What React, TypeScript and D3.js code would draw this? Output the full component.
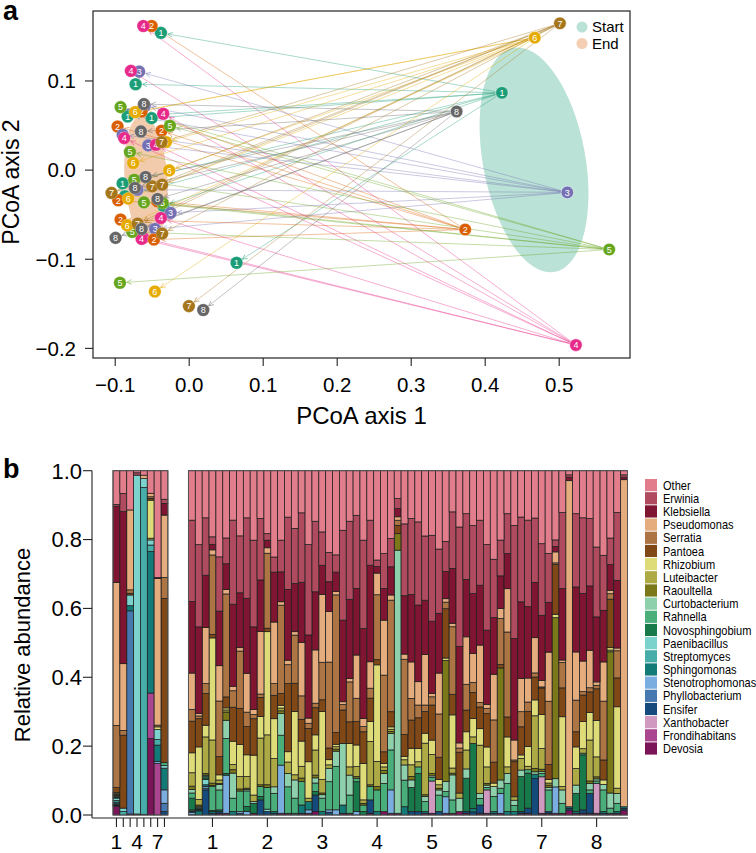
import React from "react";
import * as d3 from "d3";

// ---------- Panel a data ----------
const strainColors = ["#1B9E77", "#D95F02", "#7570B3", "#E7298A", "#66A61E", "#E6AB02", "#A6761D", "#666666"];
const strainLabels = ["1", "2", "3", "4", "5", "6", "7", "8"];
const startX = [0.4226, 0.373, 0.511, 0.5226, 0.5676, 0.467, 0.501, 0.3614];
const startY = [0.0867, -0.0667, -0.025, -0.1963, -0.0891, 0.1486, 0.1647, 0.0657];

const endStrain = [1, 2, 3, 3, 3, 3, 4, 6, 7,
  1, 1, 1, 1, 1, 1, 1,
  2, 2, 2, 2, 2, 2, 2,
  3, 3, 3, 3,
  4, 4, 4, 4, 4, 4, 4,
  5, 5, 5, 5, 5, 5, 5, 5,
  6, 6, 6, 6, 6, 6, 6,
  7, 7, 7, 7, 7, 7, 7,
  8, 8, 8, 8, 8, 8, 8, 8];
const endX = [-0.035, -0.043, -0.06, -0.07, -0.046, -0.082, -0.062, -0.067, -0.068,
  -0.0382, -0.0724, -0.0832, -0.0508, -0.09, -0.0869, 0.064,
  -0.0508, -0.0968, -0.0373, -0.0959, -0.0927, -0.0477, -0.0643,
  -0.0676, -0.09, -0.0554, -0.0251,
  -0.062, -0.0788, -0.0351, -0.0878, -0.045, -0.0382, -0.0643,
  -0.0927, -0.026, -0.0801, -0.0743, -0.0612, -0.036, -0.077, -0.0936,
  -0.073, -0.0315, -0.0757, -0.027, -0.0824, -0.0838, -0.0464,
  -0.0373, -0.05, -0.0365, -0.1049, -0.0697, -0.0365, -0.0004,
  -0.0612, -0.0653, -0.0734, -0.0589, -0.0427, -0.0643, -0.0995, 0.019];
const endY = [-0.04, -0.035, 0.072, -0.022, -0.066, 0.062, -0.076, 0.066, -0.062,
  0.154, 0.0964, 0.0601, 0.0583, -0.0149, -0.0294, -0.104,
  0.1617, 0.049, 0.0441, -0.0339, -0.0555, -0.0779, 0.0657,
  0.1105, 0.0396, 0.0277, -0.048,
  0.1617, 0.1113, 0.0632, 0.0359, 0.0284, -0.0537, -0.0772,
  0.0707, 0.0497, 0.0203, -0.0108, -0.0362, -0.0369, -0.0693, -0.1264,
  0.065, 0.0315, 0.008, -0.0003, -0.032, -0.0619, -0.1362,
  0.0315, -0.0182, -0.0163, -0.0256, -0.06, -0.0712, -0.1526,
  0.074, 0.0434, -0.02, -0.0077, -0.0324, -0.066, -0.076, -0.157];

// fitted ellipses (centre, semi-axes in data units, tilt in degrees)
const ellipseStart = { cx: 0.466, cy: 0.0115, rx: 0.0692, ry: 0.1278, angle: -10.5 };
const ellipseEnd = { cx: -0.0584, cy: -0.0095, rx: 0.029, ry: 0.071, angle: -4 };

const xTicksA = [-0.1, 0, 0.1, 0.2, 0.3, 0.4, 0.5];
const yTicksA = [0.1, 0, -0.1, -0.2];
const legendA = ["Start", "End"];

// ---------- Panel b data ----------
const genera = ["Other", "Erwinia", "Klebsiella", "Pseudomonas", "Serratia", "Pantoea", "Rhizobium", "Luteibacter",
  "Raoultella", "Curtobacterium", "Rahnella", "Novosphingobium", "Paenibacillus", "Streptomyces", "Sphingomonas",
  "Stenotrophomonas", "Phyllobacterium", "Ensifer", "Xanthobacter", "Frondihabitans", "Devosia"];
const generaColors = ["#E27D8C", "#B04A5E", "#7F1530", "#E5AC7E", "#AD7444", "#7F4816", "#DEDC78", "#ADAA45",
  "#7A7818", "#8ED0AC", "#49AE7A", "#187A4A", "#7CD2CC", "#46ADA9", "#127A77", "#7BAEE0", "#4579AF", "#144A7C",
  "#D099BF", "#AA4690", "#7B1458"];

// start communities (one per strain), values in % in legend order
const abundanceStart = [
  [10.0, 0.5, 22.5, 42.3, 18.4, 1.5, 0.3, 0.2, 0.3, 0.3, 0.3, 0.2, 0.7, 0.5, 0.5, 0.2, 0, 0.2, 0.2, 0.2, 2.5],
  [6.6, 5.3, 44.2, 19.4, 1.4, 21.2, 0, 0, 0, 0, 0, 0, 1.0, 1.0, 0, 0, 0, 0, 0, 0, 0],
  [11.4, 0, 0, 23.2, 1.0, 0.5, 0, 0, 0, 0, 0, 0, 3.1, 0, 1.5, 0, 59.0, 0, 0, 0, 0.3],
  [0.6, 0.7, 0, 0, 0, 0, 0, 0, 0, 0, 0, 0, 98.4, 0, 0, 0, 0, 0, 0, 0, 0.3],
  [1.3, 0, 0, 1.0, 0, 0, 0, 0, 0, 0, 0, 0, 2.6, 94.9, 0, 0, 0, 0, 0, 0, 0.2],
  [6.6, 0, 0, 1.0, 0.5, 0.5, 11.1, 0.5, 0, 0, 0, 0, 1.5, 1.9, 41.3, 0, 0, 0, 0, 13.3, 22.3],
  [31.0, 0, 0.3, 42.6, 0.5, 0, 0.8, 0, 0, 0, 0, 0, 2.9, 1.6, 4.8, 0.5, 0, 0, 0, 15.0, 0],
  [8.3, 1.2, 3.4, 18.1, 6.1, 47.7, 0, 0, 0, 0, 0.8, 0, 0.8, 0, 6.3, 3.9, 2.4, 1.0, 0, 0, 0],
];

// end communities (8 replicates per strain)
const abundanceEnd = [
  [14.4, 23.7, 20.8, 10.6, 3.4, 9.2, 5.8, 3.9, 1.0, 1.0, 1.5, 3.4, 0.3, 0.2, 0.2, 0.7, 0, 0, 0, 0, 0.1],
  [21.5, 23.9, 25.2, 0.7, 0.8, 8.2, 15.3, 1.6, 0.5, 0.3, 0.3, 0.2, 0.2, 0.2, 1.2, 0, 0, 0, 0, 0, 0],
  [13.7, 16.7, 15.2, 16.3, 2.9, 9.2, 3.4, 10.6, 0.5, 0.3, 0.5, 0.5, 1.5, 0, 0.5, 0.5, 0.5, 7.3, 0, 0, 0],
  [19.3, 2.2, 1.6, 1.5, 23.2, 1.0, 29.8, 12.6, 0.7, 0.3, 7.0, 0.3, 0, 0, 0.5, 0, 0, 0.5, 0, 0, 0],
  [25.1, 15.8, 15.9, 10.3, 16.2, 5.3, 1.5, 1.0, 0.3, 1.6, 5.8, 0.5, 0, 0, 0, 0, 0, 0.5, 0, 0, 0.5],
  [19.6, 7.5, 7.5, 1.3, 30.0, 3.2, 0.6, 0.6, 2.4, 5.3, 10.2, 0.5, 0, 0, 0, 11.1, 0, 0, 0, 0, 0.5],
  [14.4, 24.5, 23.9, 1.3, 4.8, 9.9, 6.8, 1.5, 1.0, 7.3, 3.9, 0, 0, 0, 1.0, 0, 0, 0, 0, 0, 0],
  [19.0, 16.6, 16.0, 1.0, 16.7, 10.5, 9.4, 3.6, 0.6, 0, 6.0, 0, 0, 0, 0, 0.5, 0, 0.5, 0, 0, 0],
  [13.7, 23.4, 21.8, 11.3, 4.2, 8.2, 6.3, 3.4, 0.4, 0.4, 4.5, 1.5, 0, 0, 0, 1.0, 0, 0, 0, 0, 0],
  [20.2, 25.2, 24.0, 1.5, 1.2, 10.6, 11.6, 1.9, 0, 0.5, 0, 2.9, 0, 0, 0, 0, 0, 0, 0, 0, 0.5],
  [13.9, 17.9, 15.0, 18.2, 1.0, 5.5, 6.3, 13.6, 0.5, 0, 2.9, 1.0, 0, 0, 0, 0, 0, 4.4, 0, 0, 0],
  [18.3, 1.9, 2.2, 1.6, 21.8, 1.0, 30.0, 14.5, 0.8, 0, 6.3, 0, 0.7, 0, 0, 0, 0, 1.0, 0, 0, 0],
  [25.1, 4.4, 14.5, 17.9, 3.4, 6.8, 11.6, 8.2, 0, 1.9, 5.3, 0, 0, 0, 0.5, 0, 0, 0.5, 0, 0, 0],
  [20.2, 9.2, 8.7, 1.0, 25.7, 3.4, 0.8, 0.8, 0.8, 6.3, 8.7, 0, 0, 0, 0, 14.0, 0, 0, 0, 0, 0.5],
  [13.5, 21.0, 20.6, 1.3, 5.5, 19.8, 3.0, 3.3, 0, 3.9, 7.7, 0, 0, 0, 0, 0, 0, 0, 0, 0, 0.5],
  [16.8, 16.0, 14.0, 1.0, 14.0, 8.2, 18.4, 1.5, 0, 5.3, 4.4, 0, 0, 0, 0.5, 0, 0, 0, 0, 0, 0],
  [12.2, 20.1, 17.4, 15.5, 6.8, 6.3, 7.3, 3.4, 1.0, 0, 6.8, 0, 0, 0, 2.4, 0, 0, 0, 0, 0, 0.5],
  [21.5, 26.3, 24.2, 1.5, 1.5, 9.7, 10.6, 1.0, 0, 0, 0, 0, 0, 0, 2.4, 1.0, 0, 0, 0, 0, 0.5],
  [14.7, 20.5, 16.9, 15.5, 1.3, 7.9, 4.4, 7.3, 0.8, 1.5, 2.5, 1.0, 0, 0, 0, 0, 0, 4.8, 0, 0, 1.0],
  [17.8, 9.7, 8.5, 19.7, 10.9, 3.4, 19.8, 3.9, 0.5, 1.0, 3.9, 0, 0, 0, 1.0, 0, 0, 0, 0, 0, 0],
  [23.8, 8.5, 8.7, 14.7, 25.0, 3.4, 1.5, 1.0, 0, 3.9, 8.2, 0, 0, 0, 0, 0.7, 0, 0.8, 0, 0, 0],
  [24.4, 5.0, 5.6, 1.0, 39.9, 3.4, 0.7, 0.7, 0.6, 4.4, 12.6, 0, 0, 0, 0, 1.5, 0, 0, 0, 0, 0],
  [17.3, 26.1, 23.7, 0.8, 1.6, 9.7, 0, 0, 0, 17.9, 0, 0, 0, 0, 2.4, 0, 0, 0, 0, 0, 0.5],
  [14.7, 22.7, 23.0, 1.0, 11.6, 6.3, 6.8, 2.4, 0, 5.8, 5.3, 0, 0, 0, 0, 0, 0, 0, 0, 0, 0.5],
  [13.0, 21.3, 19.4, 12.6, 6.8, 6.8, 6.3, 2.9, 0.5, 0, 1.0, 8.7, 0, 0, 0, 1.0, 0, 0, 0, 0, 0],
  [20.2, 25.7, 26.1, 2.4, 1.5, 9.2, 10.6, 1.0, 0.5, 0, 1.9, 1.0, 0, 0, 0, 0, 0, 0, 0, 0, 0],
  [14.4, 13.1, 28.1, 7.7, 2.9, 6.8, 5.8, 12.6, 0.5, 0, 3.9, 0, 0, 0, 0, 0, 0, 3.9, 0, 0, 0.5],
  [26.0, 1.9, 1.9, 6.3, 18.9, 1.5, 28.1, 7.3, 1.0, 0, 6.3, 0, 0, 0, 1.0, 0, 0, 0, 0, 0, 0],
  [24.1, 10.2, 9.2, 16.0, 22.3, 3.4, 1.0, 1.0, 0.9, 2.9, 8.2, 0, 0, 0, 0, 0, 0, 0, 0, 0, 1.0],
  [19.7, 8.2, 8.2, 1.5, 32.4, 4.4, 0.7, 0.6, 0.6, 4.8, 11.6, 0, 0, 0, 0, 6.8, 0, 0, 0, 0, 0.5],
  [8.1, 2.9, 2.4, 1.0, 1.5, 2.4, 0, 0, 4.8, 76.5, 0, 0, 0, 0, 0, 0, 0, 0, 0, 0, 0.5],
  [15.4, 20.8, 16.9, 1.5, 21.8, 6.3, 1.0, 1.5, 0, 4.4, 7.7, 0, 0, 0, 2.4, 0, 0, 0, 0, 0, 0],
  [13.9, 22.1, 19.6, 10.6, 6.3, 8.2, 4.8, 3.4, 1.0, 2.2, 0, 7.0, 0, 0, 0, 0, 0, 1.0, 0, 0, 0],
  [14.9, 24.2, 22.3, 6.8, 3.7, 8.9, 3.9, 1.5, 0, 0, 1.9, 11.1, 0, 0, 0, 0, 0, 1.0, 0, 0, 0],
  [19.0, 18.7, 15.8, 14.7, 1.9, 6.3, 2.9, 15.0, 0.5, 1.5, 2.9, 0, 0, 0, 0.5, 0, 0, 0, 0, 0, 0.5],
  [18.8, 25.0, 21.0, 1.0, 2.4, 10.2, 4.2, 5.5, 0.7, 0.5, 1.0, 0, 0, 0, 0, 0, 0, 0, 9.4, 0, 0.5],
  [22.8, 18.7, 17.4, 11.9, 12.6, 6.5, 1.5, 1.0, 0.5, 1.5, 4.8, 0, 0, 0, 0, 0, 0, 1.0, 0, 0, 0],
  [20.5, 8.7, 7.9, 1.0, 1.9, 14.3, 0.7, 0, 35.1, 2.9, 1.5, 0, 0, 0, 0, 4.8, 0, 0, 0, 0, 0.5],
  [12.0, 16.5, 16.0, 1.0, 19.7, 6.0, 15.5, 1.5, 0.5, 7.3, 3.9, 0, 0, 0, 0, 0, 0, 0, 0, 0, 0.5],
  [16.4, 34.8, 28.1, 1.5, 1.2, 11.9, 0, 1.5, 0, 3.9, 0, 0, 0, 0, 0, 0, 0, 0, 0, 0, 1.0],
  [12.5, 19.1, 16.7, 13.8, 7.5, 6.3, 5.3, 5.5, 0, 2.7, 0, 9.7, 0, 0, 0, 0, 0, 0.5, 0, 0, 0.5],
  [15.9, 19.8, 17.4, 8.4, 2.9, 7.6, 5.3, 1.9, 0, 0, 0, 18.9, 0, 0, 1.0, 0, 0, 0.9, 0, 0, 0],
  [14.4, 18.9, 17.4, 16.7, 1.3, 6.3, 4.8, 14.0, 0, 1.5, 1.9, 0, 0, 0, 0, 0, 0, 2.4, 0, 0, 0.5],
  [21.5, 24.9, 21.6, 1.2, 1.5, 9.7, 5.8, 4.8, 0.5, 0.7, 0.7, 0, 0, 0, 0, 0, 0, 0, 6.8, 0, 0.5],
  [25.8, 17.0, 16.5, 13.3, 12.3, 6.1, 1.0, 0, 0, 2.9, 4.4, 0, 0, 0, 0.5, 0, 0, 0.5, 0, 0, 0],
  [20.2, 10.4, 9.5, 2.9, 13.4, 1.0, 0, 0, 32.6, 2.4, 1.5, 0, 0, 0, 0, 5.8, 0, 0, 0, 0, 0.5],
  [12.5, 11.6, 10.2, 12.6, 24.7, 5.8, 8.7, 1.9, 0, 2.9, 8.2, 0, 0, 0, 1.0, 0, 0, 0, 0, 0, 0],
  [15.9, 32.9, 29.5, 5.8, 0.5, 10.2, 0, 1.0, 0, 1.5, 1.8, 0, 0, 0, 1.0, 0, 0, 0, 0, 0, 0],
  [13.5, 24.7, 22.3, 9.7, 4.4, 8.2, 1.0, 3.4, 0, 1.9, 0, 10.2, 0, 0, 0, 0, 0, 0.5, 0, 0, 0.5],
  [14.4, 25.2, 20.8, 7.0, 2.7, 10.2, 5.8, 1.0, 0, 0, 1.0, 10.2, 0, 0, 0, 0, 0, 1.5, 0, 0, 0.5],
  [13.7, 18.6, 16.0, 10.2, 1.2, 6.6, 4.6, 15.2, 1.0, 0.7, 0, 0, 0, 0, 1.2, 0, 0, 10.6, 0, 0, 0],
  [21.2, 20.8, 18.9, 1.9, 0.3, 7.7, 9.9, 6.0, 0.7, 0.5, 1.0, 0, 0, 0, 0, 0, 0, 0, 10.6, 0, 0.5],
  [24.1, 14.2, 14.5, 14.3, 18.4, 4.4, 1.0, 0.6, 0.7, 0.7, 6.3, 0, 0, 0, 0, 0, 0, 0.5, 0, 0, 0.5],
  [20.2, 1.9, 1.6, 3.2, 0.5, 14.5, 1.0, 0, 47.0, 2.4, 0, 0, 0, 0, 0, 7.7, 0, 0, 0, 0, 0.5],
  [12.2, 22.1, 20.8, 0.7, 7.4, 8.4, 20.3, 1.0, 0, 3.9, 2.9, 0, 0, 0, 0, 0, 0, 0, 0, 0, 0.5],
  [1.2, 0.7, 1.0, 94.9, 0, 0, 0, 0, 0, 0, 0, 0, 0, 0, 0.5, 0, 0, 0.5, 0, 0, 1.4],
  [12.5, 21.3, 18.9, 14.0, 9.2, 4.4, 6.3, 4.8, 0, 2.4, 0, 5.3, 0, 0, 0.5, 0, 0, 0, 0, 0, 0.5],
  [13.7, 22.0, 19.7, 8.9, 1.0, 7.7, 7.9, 1.3, 0, 0, 0.5, 16.0, 0, 0, 0, 0, 0, 1.0, 0, 0, 0.5],
  [13.9, 19.6, 18.7, 10.9, 1.2, 6.0, 8.0, 11.9, 0.7, 1.9, 1.0, 0, 0, 0, 0, 0, 0, 5.8, 0, 0, 0.5],
  [22.2, 20.3, 18.9, 1.0, 1.0, 9.2, 10.6, 5.8, 0.6, 0.6, 0.7, 0, 0, 0, 0, 0, 0, 0, 8.7, 0, 0.5],
  [24.6, 16.0, 15.0, 11.4, 17.1, 5.8, 1.3, 0, 0, 1.6, 6.3, 0, 0, 0, 0.5, 0, 0, 0.5, 0, 0, 0],
  [19.6, 7.7, 7.5, 1.0, 1.6, 14.1, 0.7, 0.5, 41.1, 4.4, 1.5, 0, 0, 0, 0, 0, 0, 0, 0, 0, 0.5],
  [12.2, 19.7, 19.7, 0.8, 7.9, 8.4, 23.7, 1.5, 0, 2.9, 2.4, 0, 0, 0, 0.5, 0, 0, 0, 0, 0, 0.5],
  [1.2, 0.7, 0.7, 94.7, 0, 0, 0, 0, 0, 0, 0, 0, 0, 0, 0.5, 0, 0, 0.5, 0, 0, 1.4],
];

const yTicksB = [0, 0.2, 0.4, 0.6, 0.8, 1.0];
const startTickLabels = ["1", "", "", "4", "", "", "7", ""];
const endTickLabels = ["1", "2", "3", "4", "5", "6", "7", "8"];

const FONT = "'Liberation Sans', Arial, Helvetica, sans-serif";

export default function App() {
  // ---- panel a scales ----
  const xA = d3.scaleLinear().domain([-0.13, 0.5957]).range([93, 630]);
  const yA = d3.scaleLinear().domain([-0.2108, 0.1785]).range([358, 11]);
  const fmt = d3.format(".1f");
  const rPt = 6.3;

  const ell = (e: typeof ellipseStart, color: string, op: number) => {
    const cx = xA(e.cx), cy = yA(e.cy);
    const rx = xA(e.cx + e.rx) - cx, ry = cy - yA(e.cy + e.ry);
    return (
      <ellipse cx={0} cy={0} rx={rx} ry={ry} fill={color} fillOpacity={op}
        transform={`translate(${cx},${cy}) rotate(${e.angle})`} />
    );
  };

  const segs = endX.map((ex, i) => {
    const s = endStrain[i] - 1;
    const x1 = xA(startX[s]), y1 = yA(startY[s]);
    const x2 = xA(ex), y2 = yA(endY[i]);
    const dx = x2 - x1, dy = y2 - y1, L = Math.hypot(dx, dy);
    const k = (L - rPt - 0.5) / L;
    return { s, x1, y1, x2: x1 + dx * k, y2: y1 + dy * k };
  });

  // ---- panel b scales ----
  const yB = d3.scaleLinear().domain([0, 1]).range([815, 470.7]);
  const slot = d3.scaleLinear().domain([0, 75]).range([113, 627.5]);
  const bw = slot(1) - slot(0);
  const rows = [...abundanceStart, ...abundanceEnd].map((r) => {
    const o: Record<string, number> = {};
    genera.forEach((g, i) => (o[g] = r[i]));
    return o;
  });
  const slotOf = (i: number) => (i < 8 ? i : i + 3);
  const stackKeys = [...genera].reverse();
  const series = d3.stack<Record<string, number>>().keys(stackKeys).offset(d3.stackOffsetExpand)(rows);
  const colorOf = d3.scaleOrdinal<string, string>().domain(genera).range(generaColors);

  const axisY = 818;

  return (
    <svg width={756} height={853} style={{ position: "absolute", left: 0, top: 0, background: "#fff" }}
      fontFamily={FONT}>
      <defs>
        {strainColors.map((c, i) => (
          <marker key={i} id={`arr${i}`} markerUnits="userSpaceOnUse" markerWidth={8} markerHeight={8}
            refX={5} refY={3} orient="auto">
            <path d="M0,0.6 L5,3 L0,5.4" fill="none" stroke={c} strokeOpacity={0.55} strokeWidth={0.9} />
          </marker>
        ))}
      </defs>

      {/* ================= Panel a ================= */}
      <text x={3} y={20} fontSize={27} fontWeight="bold">a</text>
      {ell(ellipseStart, strainColors[0], 0.3)}
      {ell(ellipseEnd, strainColors[1], 0.33)}

      {segs.map((d, i) => (
        <line key={i} x1={d.x1} y1={d.y1} x2={d.x2} y2={d.y2} stroke={strainColors[d.s]}
          strokeOpacity={0.38} strokeWidth={1} markerEnd={`url(#arr${d.s})`} />
      ))}

      {endX.map((ex, i) => {
        const s = endStrain[i] - 1;
        return (
          <g key={i} transform={`translate(${xA(ex)},${yA(endY[i])})`}>
            <circle r={rPt} fill={strainColors[s]} stroke="#fff" strokeOpacity={0.5} strokeWidth={0.5} />
            <text textAnchor="middle" dy="0.36em" fontSize={9} fill="#fff">{strainLabels[s]}</text>
          </g>
        );
      })}
      {startX.map((sx, s) => (
        <g key={s} transform={`translate(${xA(sx)},${yA(startY[s])})`}>
          <circle r={rPt} fill={strainColors[s]} stroke="#fff" strokeOpacity={0.7} strokeWidth={0.8} />
          <text textAnchor="middle" dy="0.36em" fontSize={9} fill="#fff">{strainLabels[s]}</text>
        </g>
      ))}

      <rect x={93} y={11} width={537} height={347} fill="none" stroke="#222" strokeWidth={1.2} />
      {xTicksA.map((t) => (
        <g key={t}>
          <line x1={xA(t)} x2={xA(t)} y1={358} y2={366} stroke="#222" strokeWidth={1.1} />
          <text x={xA(t)} y={392} textAnchor="middle" fontSize={20.5}>{fmt(t)}</text>
        </g>
      ))}
      {yTicksA.map((t) => (
        <g key={t}>
          <line x1={85} x2={93} y1={yA(t)} y2={yA(t)} stroke="#222" strokeWidth={1.1} />
          <text x={76} y={yA(t)} dy="0.36em" textAnchor="end" fontSize={20.5}>{fmt(t)}</text>
        </g>
      ))}
      <text x={361.5} y={424} textAnchor="middle" fontSize={24}>PCoA axis 1</text>
      <text transform={`translate(19,182) rotate(-90)`} textAnchor="middle" fontSize={23}>PCoA axis 2</text>

      {legendA.map((l, i) => (
        <g key={l} transform={`translate(582,${27 + i * 16.5})`}>
          <circle r={5.5} fill={strainColors[i === 0 ? 0 : 1]} fillOpacity={0.3} />
          <text x={10} dy="0.36em" fontSize={15}>{l}</text>
        </g>
      ))}

      {/* ================= Panel b ================= */}
      <text x={3} y={478} fontSize={27} fontWeight="bold">b</text>

      {series.map((ser) => (
        <g key={ser.key} fill={colorOf(ser.key)}>
          {ser.map((d, i) =>
            d[1] - d[0] > 0 ? (
              <rect key={i} x={slot(slotOf(i))} width={bw} y={yB(d[1])} height={yB(d[0]) - yB(d[1])}
                stroke="#1e1e1e" strokeWidth={0.75} />
            ) : null
          )}
        </g>
      ))}
      <rect x={slot(0)} y={yB(1)} width={8 * bw} height={yB(0) - yB(1)} fill="none" stroke="#555" strokeWidth={1} />
      <rect x={slot(11)} y={yB(1)} width={64 * bw} height={yB(0) - yB(1)} fill="none" stroke="#555" strokeWidth={1} />

      <line x1={92} x2={92} y1={yB(1)} y2={axisY} stroke="#222" strokeWidth={1.1} />
      <line x1={92} x2={628} y1={axisY} y2={axisY} stroke="#222" strokeWidth={1.1} />
      {yTicksB.map((t) => (
        <g key={t}>
          <line x1={83} x2={92} y1={yB(t)} y2={yB(t)} stroke="#222" strokeWidth={1.1} />
          <text x={82} y={yB(t)} dy="0.36em" textAnchor="end" fontSize={22}>{fmt(t)}</text>
        </g>
      ))}
      {startTickLabels.map((l, i) => {
        const x = slot(i) + bw / 2;
        return (
          <g key={`s${i}`}>
            <line x1={x} x2={x} y1={axisY} y2={axisY + 9} stroke="#222" strokeWidth={1.1} />
            {l && <text x={x} y={849} textAnchor="middle" fontSize={21}>{l}</text>}
          </g>
        );
      })}
      {endTickLabels.map((l, k) => {
        const x = slot(11 + k * 8 + 3) + bw / 2;
        return (
          <g key={`e${k}`}>
            <line x1={x} x2={x} y1={axisY} y2={axisY + 9} stroke="#222" strokeWidth={1.1} />
            <text x={x} y={849} textAnchor="middle" fontSize={21}>{l}</text>
          </g>
        );
      })}
      <text transform={`translate(30,645) rotate(-90)`} textAnchor="middle" fontSize={22}>Relative abundance</text>

      {genera.map((g, i) => {
        const cy = 485 + i * 13.17;
        return (
          <g key={g}>
            <rect x={645} y={cy - 6} width={12} height={12.2} fill={colorOf(g)} />
            <text transform={`translate(663,${cy}) scale(0.85,1)`} dy="0.36em" fontSize={13}>{g}</text>
          </g>
        );
      })}
    </svg>
  );
}
